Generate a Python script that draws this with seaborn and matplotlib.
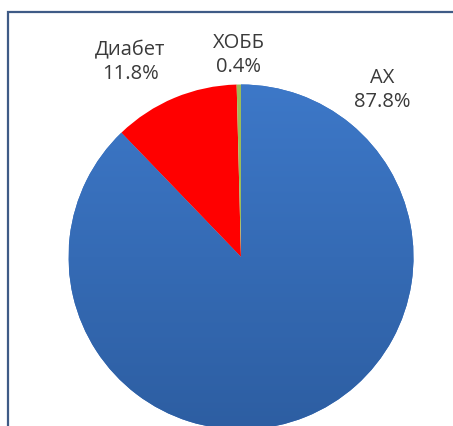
import matplotlib
matplotlib.use("Agg")
import matplotlib.pyplot as plt
import numpy as np
import seaborn as sns
from matplotlib.patches import Rectangle
from matplotlib.colors import LinearSegmentedColormap

# Share of each condition, in percent
categories = ["АХ", "Диабет", "ХОББ"]
shares = [87.8, 11.8, 0.4]
colors = ["#3A70BE", "#FF0000", "#9BBB59"]

sns.set_theme(style="white")
plt.rcParams["font.family"] = ["Open Sans", "DejaVu Sans"]

W, H = 453, 426
fig = plt.figure(figsize=(W / 100, H / 100), dpi=100)
fig.patch.set_facecolor("white")

# Pie placed in a square pixel box (centre cx, cy; radius r)
cx, cy, r = 241, 257, 172.5
ax = fig.add_axes([(cx - r) / W, (H - cy - r) / H, 2 * r / W, 2 * r / H])
wedges, _ = ax.pie(shares, colors=colors, startangle=90, counterclock=False,
                   radius=1, wedgeprops=dict(linewidth=0))

# Soft vertical shading on the large slice
grad = np.linspace(0, 1, 256).reshape(-1, 1)
cmap = LinearSegmentedColormap.from_list("shade", ["#3D78C8", "#2D5EA2"])
im = ax.imshow(grad, extent=(-1, 1, -1, 1), cmap=cmap, origin="upper",
               aspect="auto", zorder=wedges[0].get_zorder() + 0.1)
im.set_clip_path(wedges[0])

ax.set_xlim(-1, 1)
ax.set_ylim(-1, 1)
ax.set_aspect("equal")
ax.axis("off")

# Data labels (name + percent) around the top of the pie
label_pos = {"АХ": (0.817, 0.968), "Диабет": (-0.643, 1.130), "ХОББ": (-0.012, 1.171)}
for cat, val in zip(categories, shares):
    x, y = label_pos[cat]
    ax.text(x, y, f"{cat}\n{val}%", ha="center", va="center", fontsize=14.5,
            color="#3A3A3A", clip_on=False, linespacing=1.25)

# Chart frame
top = (H - 11.5) / H
fig.add_artist(Rectangle((7.5 / W, -0.1), 1.2, top + 0.1, transform=fig.transFigure,
                         fill=False, edgecolor="#3F5B86", linewidth=1.6))

fig.savefig("out.png", dpi=100, facecolor="white")
